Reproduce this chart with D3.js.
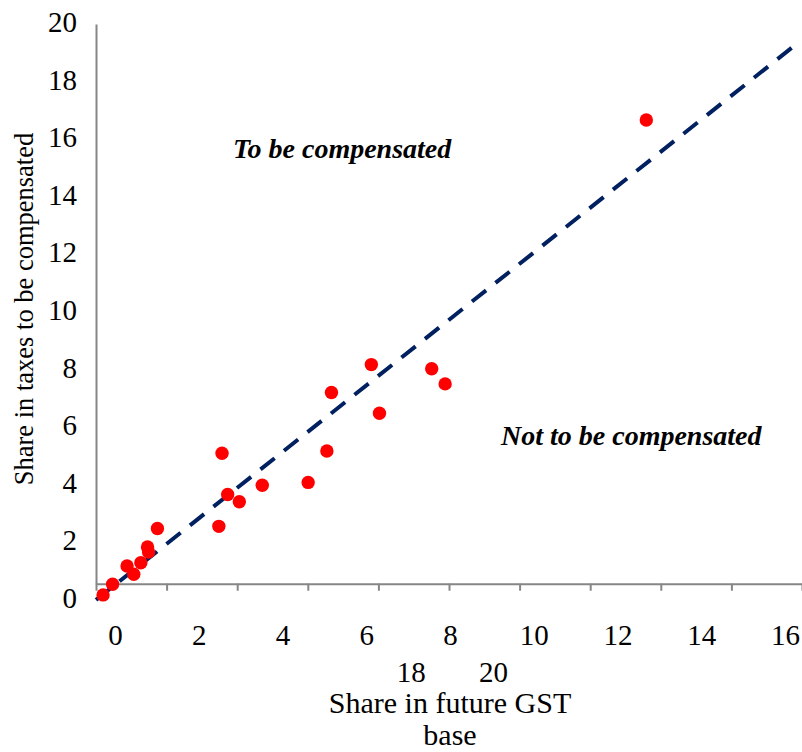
<!DOCTYPE html>
<html>
<head>
<meta charset="utf-8">
<script src="https://cdn.jsdelivr.net/npm/d3@7"></script>
</head>
<body style="margin:0">
<svg id="chart" width="802" height="752"></svg>
<script>
// ---- data ----
const gstBaseShare = [0.20, 0.47, 0.88, 1.07, 1.27, 1.46, 1.49, 1.74, 3.48, 3.57, 3.73,
                      4.06, 4.71, 6.01, 6.54, 6.67, 7.80, 8.03, 9.51, 9.89, 15.59];
const taxShare     = [-0.40, -0.02, 0.63, 0.34, 0.75, 1.31, 1.13, 1.97, 2.05, 4.66, 3.19,
                      2.93, 3.52, 3.62, 4.74, 6.83, 7.83, 6.09, 7.68, 7.14, 16.57];
const refLineX = [0, 19.75];
const refLineY = [-0.58, 19.19];
const xTicks = [0, 2, 4, 6, 8, 10, 12, 14, 16, 18, 20];
const xLabelsRow1 = [0, 2, 4, 6, 8, 10, 12, 14, 16];
const xLabelsRow2 = [18, 20];
const yTicks = [0, 2, 4, 6, 8, 10, 12, 14, 16, 18, 20];
const xTitleLines = ["Share in future GST", "base"];
const yTitle = "Share in taxes to be compensated";
const annotations = ["To be compensated", "Not to be compensated"];

// ---- layout ----
const FONT = "Liberation Serif";
const svg = d3.select("#chart");
const axisColor = "#868686";

const x = d3.scaleLinear().domain([0, 20]).range([96, 802]);
const y = d3.scaleLinear().domain([0, 20]).range([583.7, 24]);

// label scales (labels are laid out independently of the tick marks)
const yLab = d3.scaleLinear().domain([0, 20]).range([598, 22.5]);
const xLab1 = d3.scaleLinear().domain([0, 16]).range([115, 785]);
const xLab2 = d3.scaleLinear().domain([18, 20]).range([410.8, 493]);
const fmt = d3.format("d");

// y axis line (no ticks)
const gy = svg.append("g").attr("transform", `translate(${x(0)},0)`)
  .call(d3.axisLeft(y).tickValues([]).tickSizeOuter(0));
gy.select(".domain").attr("stroke", axisColor).attr("stroke-width", 2);

// x axis line with tick marks
const gx = svg.append("g").attr("transform", `translate(0,${y(0)})`)
  .call(d3.axisBottom(x).tickValues(xTicks).tickSize(7).tickSizeOuter(0).tickFormat(""));
gx.select(".domain").attr("stroke", axisColor).attr("stroke-width", 2);
gx.selectAll(".tick line").attr("stroke", axisColor).attr("stroke-width", 2);

const fs = 29;
function styleLabels(g) {
  g.attr("font-family", FONT).attr("font-size", fs);
  g.select(".domain").remove();
  g.selectAll("text").attr("font-size", fs).attr("font-family", FONT).style("font-family", FONT).attr("fill", "#000");
}
// y tick labels
svg.append("g").attr("transform", "translate(77,0)")
  .call(d3.axisLeft(yLab).tickValues(yTicks).tickSize(0).tickPadding(0).tickFormat(fmt))
  .call(styleLabels);

// x tick labels, row 1 and row 2
svg.append("g").attr("transform", `translate(0,${645 - 3 - 0.71 * fs})`)
  .call(d3.axisBottom(xLab1).tickValues(xLabelsRow1).tickSize(0).tickFormat(fmt))
  .call(styleLabels);

svg.append("g").attr("transform", `translate(0,${681.7 - 3 - 0.71 * fs})`)
  .call(d3.axisBottom(xLab2).tickValues(xLabelsRow2).tickSize(0).tickFormat(fmt))
  .call(styleLabels);

// dashed reference line
const refData = refLineX.map((v, i) => [v, refLineY[i]]);
svg.append("path")
  .datum(refData)
  .attr("d", d3.line().x(d => x(d[0])).y(d => y(d[1])))
  .attr("fill", "none")
  .attr("stroke", "#002060")
  .attr("stroke-width", 4)
  .attr("stroke-dasharray", "18,12");

// points
const pts = gstBaseShare.map((v, i) => [v, taxShare[i]]);
svg.append("g").selectAll("circle")
  .data(pts)
  .join("circle")
  .attr("cx", d => x(d[0]))
  .attr("cy", d => y(d[1]))
  .attr("r", 6.7)
  .attr("fill", "#FF0000");

// annotations
svg.append("text")
  .attr("x", 233).attr("y", 158)
  .attr("font-size", 28).attr("font-weight", "bold").attr("font-style", "italic")
  .attr("font-family", FONT).style("font-family", FONT)
  .text(annotations[0]);
svg.append("text")
  .attr("x", 501).attr("y", 445)
  .attr("font-size", 28).attr("font-weight", "bold").attr("font-style", "italic")
  .attr("font-family", FONT).style("font-family", FONT)
  .text(annotations[1]);

// axis titles
svg.append("text")
  .attr("transform", "translate(33,309) rotate(-90)")
  .attr("text-anchor", "middle")
  .attr("font-size", 26.5)
  .attr("font-family", FONT).style("font-family", FONT)
  .text(yTitle);

svg.append("g").selectAll("text")
  .data(xTitleLines)
  .join("text")
  .attr("x", 450)
  .attr("y", (d, i) => 713 + i * 32)
  .attr("text-anchor", "middle")
  .attr("font-size", 30)
  .attr("font-family", FONT).style("font-family", FONT)
  .text(d => d);
</script>
</body>
</html>
